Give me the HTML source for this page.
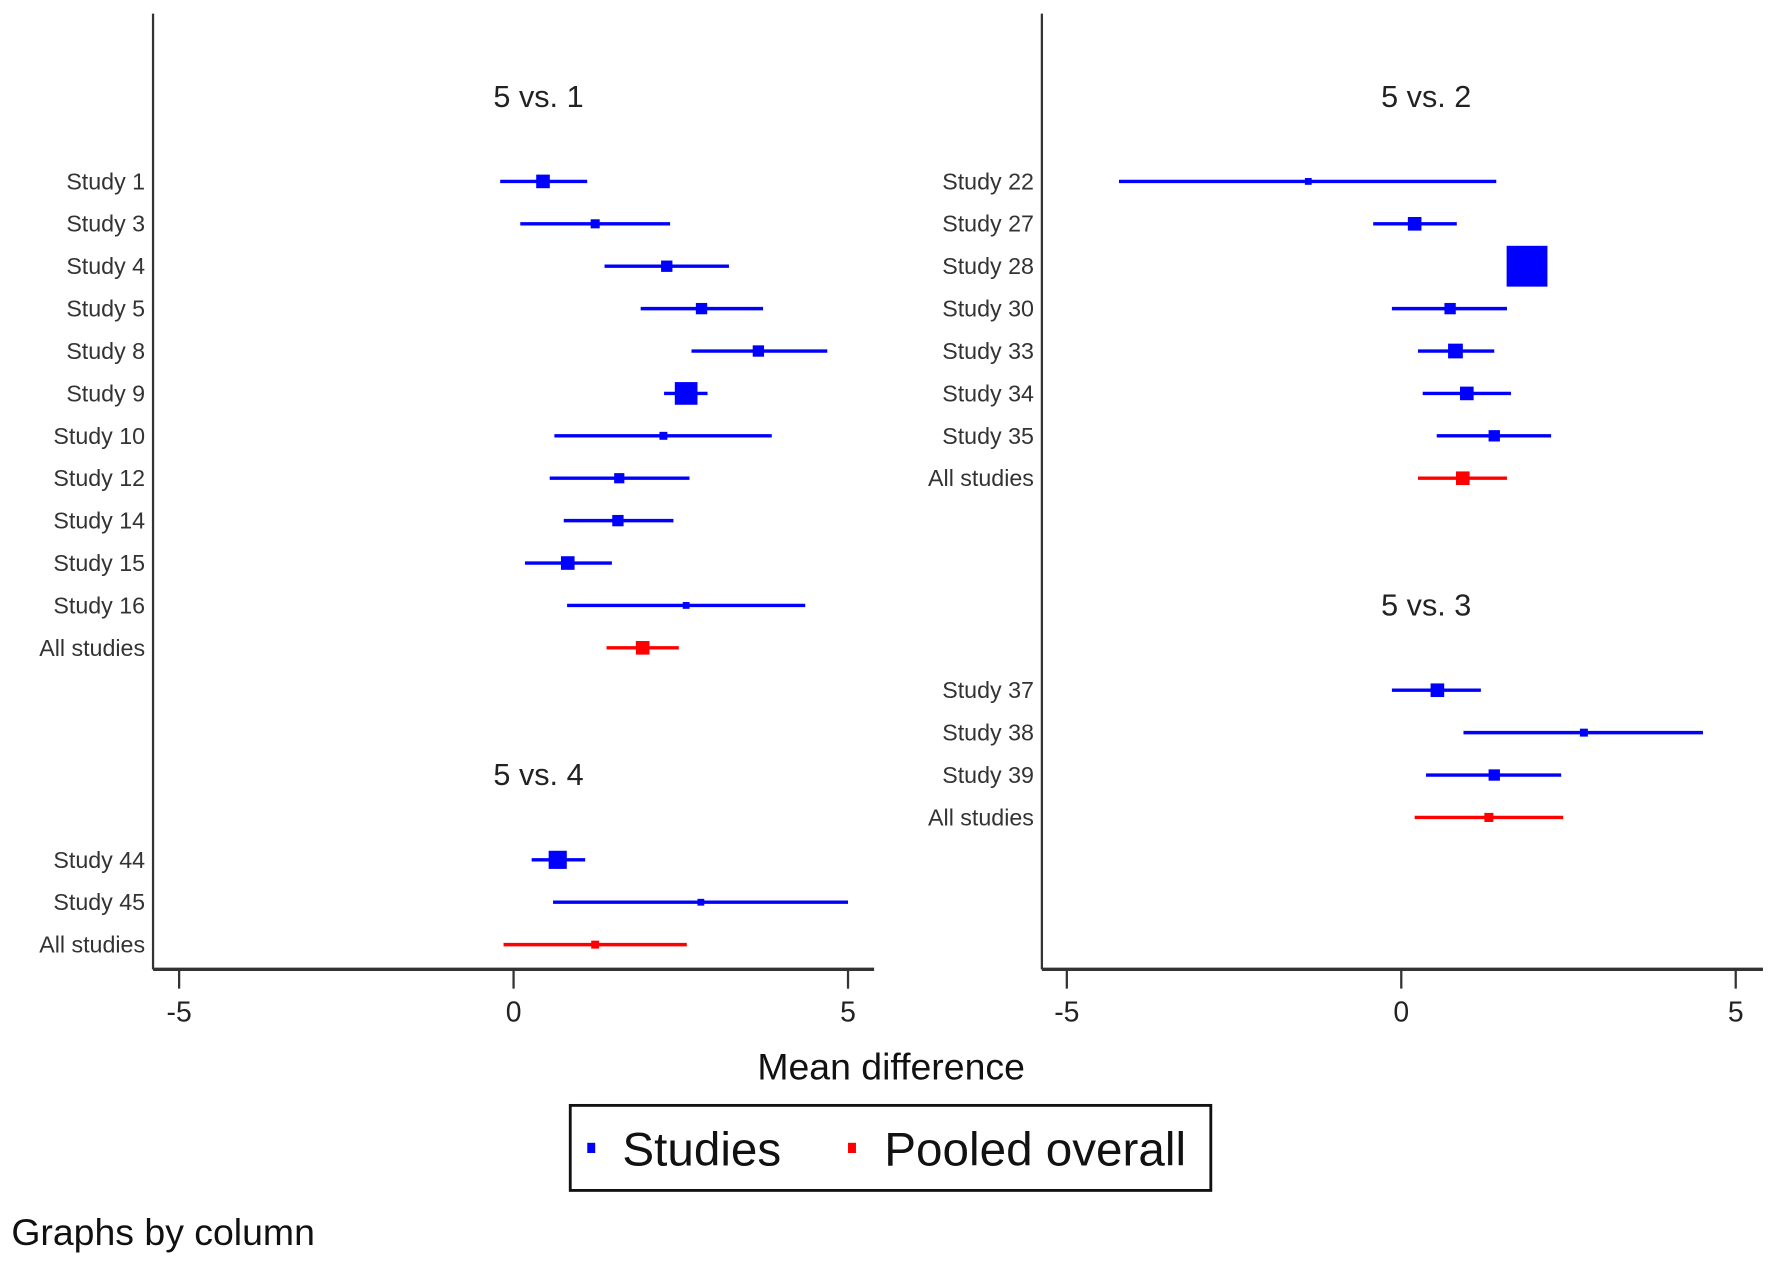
<!DOCTYPE html>
<html><head><meta charset="utf-8"><style>
html,body{margin:0;padding:0;background:#fff;}
svg{display:block;font-family:"Liberation Sans",sans-serif;}
</style></head><body>
<svg id="chart" width="1772" height="1263" viewBox="0 0 1563 1114" xmlns="http://www.w3.org/2000/svg">
<g id="axes"></g>
<g id="marks"></g>
<text x="786" y="952" text-anchor="middle" font-size="33" fill="#111">Mean difference</text>
<g>
<rect x="503" y="975" width="565" height="75" fill="#fff" stroke="#111" stroke-width="2.5"/>
<rect x="518" y="1008" width="7" height="9" fill="#0000ff"/>
<text x="549" y="1028" font-size="42" fill="#111">Studies</text>
<rect x="748" y="1008" width="7" height="9" fill="#ff0000"/>
<text x="780" y="1028" font-size="42" fill="#111">Pooled overall</text>
</g>
<text x="10" y="1098" font-size="33" fill="#111">Graphs by column</text>
</svg>
<script>
var leftLabels = ["Study 1","Study 3","Study 4","Study 5","Study 8","Study 9","Study 10","Study 12","Study 14","Study 15","Study 16","All studies","Study 44","Study 45","All studies"];
var leftRows = [0,1,2,3,4,5,6,7,8,9,10,11,16,17,18];
var leftEst = [0.44,1.22,2.29,2.81,3.66,2.58,2.24,1.58,1.56,0.81,2.58,1.93,0.66,2.8,1.22];
var leftLo = [-0.2,0.1,1.36,1.9,2.66,2.25,0.61,0.54,0.75,0.17,0.8,1.39,0.27,0.59,-0.15];
var leftHi = [1.1,2.34,3.22,3.73,4.69,2.9,3.86,2.63,2.39,1.47,4.36,2.47,1.07,5.0,2.59];
var leftWeight = [12,8,10,10,10,20,7,9,10,12,6,12,16,6,7];
var leftPooled = [0,0,0,0,0,0,0,0,0,0,0,1,0,0,1];
var leftTitles = ["5 vs. 1","5 vs. 4"];
var leftTitleRows = [-2,14];

var rightLabels = ["Study 22","Study 27","Study 28","Study 30","Study 33","Study 34","Study 35","All studies","Study 37","Study 38","Study 39","All studies"];
var rightRows = [0,1,2,3,4,5,6,7,12,13,14,15];
var rightEst = [-1.39,0.2,1.88,0.73,0.81,0.98,1.39,0.92,0.54,2.73,1.39,1.31];
var rightLo = [-4.22,-0.42,1.88,-0.14,0.25,0.32,0.53,0.25,-0.14,0.93,0.37,0.2];
var rightHi = [1.42,0.83,1.88,1.58,1.39,1.64,2.24,1.58,1.19,4.51,2.39,2.42];
var rightWeight = [6,12,36,10,13,12,10,12,12,7,10,8];
var rightPooled = [0,0,0,0,0,0,0,1,0,0,0,1];
var rightTitles = ["5 vs. 2","5 vs. 3"];
var rightTitleRows = [-2,10];

var xTicks = [-5,0,5];
var xTickLabels = ["-5","0","5"];

var NS = "http://www.w3.org/2000/svg";
var axesG = document.getElementById("axes");
var marksG = document.getElementById("marks");
function yRow(i){ return 160 + 37.4*i; }
function mk(tag, attrs, parent){ var e=document.createElementNS(NS,tag); for(var k in attrs) e.setAttribute(k,attrs[k]); parent.appendChild(e); return e; }

function drawPanel(p){
  var xs = function(v){ return p.zero + 59*v; };
  var ax = mk("line",{x1:p.axisX,y1:12,x2:p.axisX,y2:855,stroke:"#333","stroke-width":2},axesG);
  
  
  var bx = mk("line",{x1:p.axisX,y1:855,x2:p.axisX+636,y2:855,stroke:"#333","stroke-width":3},axesG);
  
  
  for (var t=0;t<xTicks.length;t++){
    var tl = mk("line",{x1:xs(xTicks[t]),y1:855,x2:xs(xTicks[t]),y2:872,stroke:"#333","stroke-width":2},axesG);
    
    
    var tt = mk("text",{x:xs(xTicks[t]),y:901,"text-anchor":"middle","font-size":25,fill:"#222"},axesG);
    tt.textContent = xTickLabels[t];
    
    
  }
  for (var s=0;s<p.titles.length;s++){
    var ti = mk("text",{x:p.zero+22,y:yRow(p.titleRows[s])+9,"text-anchor":"middle","font-size":27,fill:"#222"},axesG);
    ti.textContent = p.titles[s];
    
    
  }
  for (var i=0;i<p.labels.length;i++){
    var y = yRow(p.rows[i]);
    var col = p.pooled[i] ? "#ff0000" : "#0000ff";
    var lb = mk("text",{x:p.axisX-7,y:y+7,"text-anchor":"end","font-size":20.5,fill:"#333"},marksG);
    lb.textContent = p.labels[i];
    
    
    var ci = mk("line",{x1:xs(p.lo[i]),y1:y,x2:xs(p.hi[i]),y2:y,stroke:col,"stroke-width":3},marksG);
    
    
    var w = p.weight[i];
    var bxm = mk("rect",{x:xs(p.est[i])-w/2,y:y-w/2,width:w,height:w,fill:col},marksG);
    
    
  }
}
drawPanel({name:"left",axisX:135,zero:453,labels:leftLabels,rows:leftRows,est:leftEst,lo:leftLo,hi:leftHi,weight:leftWeight,pooled:leftPooled,titles:leftTitles,titleRows:leftTitleRows});
drawPanel({name:"right",axisX:919,zero:1236,labels:rightLabels,rows:rightRows,est:rightEst,lo:rightLo,hi:rightHi,weight:rightWeight,pooled:rightPooled,titles:rightTitles,titleRows:rightTitleRows});
</script>
</body></html>
